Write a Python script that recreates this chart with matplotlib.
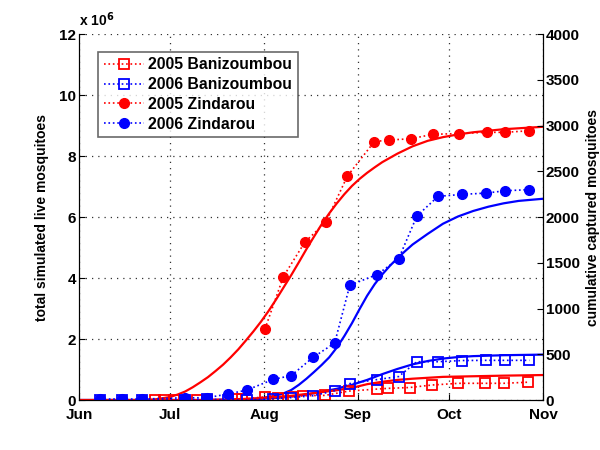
import matplotlib
matplotlib.use("Agg")
import matplotlib.pyplot as plt

plt.rcParams['font.family'] = ['Liberation Sans', 'DejaVu Sans']
plt.rcParams['font.weight'] = 'bold'

# days since 1 June
month_days = [0, 30, 61, 92, 122, 153]
month_labels = ['Jun', 'Jul', 'Aug', 'Sep', 'Oct', 'Nov']

# captured mosquitoes (right axis)
ban05_days = [25.2, 28.0, 31.3, 38.9, 42.2, 51.8, 53.7, 61.2, 65.6, 70.4, 74.0, 81.1,
              88.9, 98.3, 102.0, 109.0, 116.3, 125.1, 134.0, 140.0, 148.1]
ban05_vals = [0, 0, 0, 0, 0, 8, 8, 36, 22, 36, 47, 51,
              98, 120, 128, 137, 164, 183, 183, 183, 195]

ban06_days = [6.9, 14.1, 20.9, 34.9, 42.1, 49.2, 55.3, 64.1, 70.0, 77.2, 84.3, 89.3,
              98.3, 105.4, 111.4, 118.4, 126.4, 134.3, 140.4, 148.5]
ban06_vals = [0, 0, 0, 0, 11, 0, 0, 16, 27, 47, 102, 180,
              224, 257, 419, 419, 432, 434, 434, 434]

zin05_days = [61.3, 67.4, 74.5, 81.4, 88.5, 97.4, 102.3, 109.5, 116.6, 125.3, 134.4, 140.5, 148.5]
zin05_vals = [776, 1350, 1727, 1945, 2448, 2825, 2842, 2856, 2904, 2913, 2926, 2926, 2943]

zin06_days = [6.9, 14.1, 20.9, 34.9, 42.1, 49.2, 55.3, 64.1, 70.0, 77.2, 84.3, 89.3,
              98.3, 105.4, 111.4, 118.4, 126.4, 134.3, 140.4, 148.5]
zin06_vals = [11, 11, 11, 25, 25, 66, 109, 226, 268, 467, 623, 1255,
              1372, 1544, 2011, 2226, 2248, 2262, 2287, 2300]

# simulated live mosquitoes, millions (left axis)
sim_zin05_days = [0, 20, 25, 30, 32.5, 35, 37.5, 40, 42.5, 45, 47.5, 50, 52.5, 55, 57.5,
                  60, 62.5, 65, 67.5, 70, 72.5, 75, 77.5, 80, 82.5, 85, 87.5, 90, 92.5,
                  95, 97.5, 100, 105, 110, 115, 120, 125, 130, 140, 153]
sim_zin05 = [0, 0, 0.02, 0.1, 0.18, 0.28, 0.42, 0.58, 0.75, 0.95, 1.16, 1.4, 1.66, 1.95,
             2.25, 2.57, 2.92, 3.3, 3.7, 4.1, 4.52, 4.95, 5.36, 5.76, 6.12, 6.45, 6.75,
             7.02, 7.25, 7.45, 7.63, 7.8, 8.08, 8.32, 8.5, 8.62, 8.71, 8.78, 8.88, 8.96]

sim_zin06_days = [0, 50, 55, 60, 62.5, 65, 67.5, 70, 72.5, 75, 77.5, 80, 82.5, 85, 87.5,
                  90, 92.5, 95, 97.5, 100, 102.5, 105, 107.5, 110, 115, 120, 125, 130,
                  135, 140, 145, 153]
sim_zin06 = [0, 0, 0.02, 0.06, 0.1, 0.15, 0.22, 0.33, 0.5, 0.7, 0.92, 1.15, 1.4, 1.72,
             2.1, 2.52, 2.98, 3.42, 3.8, 4.12, 4.4, 4.65, 4.88, 5.1, 5.45, 5.78, 6.02,
             6.2, 6.34, 6.45, 6.53, 6.6]

sim_ban_days = [0, 40, 45, 50, 55, 60, 65, 70, 75, 80, 85, 90, 95, 100, 105, 110, 115,
                120, 125, 130, 140, 153]
sim_ban06 = [0, 0, 0.005, 0.01, 0.02, 0.04, 0.07, 0.12, 0.18, 0.27, 0.37, 0.5, 0.66,
             0.85, 1.02, 1.17, 1.28, 1.36, 1.41, 1.44, 1.47, 1.49]
sim_ban05 = [0, 0, 0.01, 0.02, 0.04, 0.06, 0.1, 0.14, 0.2, 0.26, 0.32, 0.4, 0.52,
             0.6, 0.66, 0.7, 0.73, 0.76, 0.77, 0.78, 0.8, 0.82]

fig = plt.figure(figsize=(6, 4.5), dpi=100)
ax = fig.add_axes([0.1317, 0.111, 0.7733, 0.8133])
ax2 = ax.twinx()

ax.plot(sim_zin05_days, sim_zin05, '-', color='red', lw=1.6)
ax.plot(sim_zin06_days, sim_zin06, '-', color='blue', lw=1.6)
ax.plot(sim_ban_days, sim_ban06, '-', color='blue', lw=1.6)
ax.plot(sim_ban_days, sim_ban05, '-', color='red', lw=1.6)

ax2.plot(ban05_days, ban05_vals, ':', color='red', marker='s', mfc='none', mec='red',
         ms=7, mew=1.3, lw=1.2, label='2005 Banizoumbou')
ax2.plot(ban06_days, ban06_vals, ':', color='blue', marker='s', mfc='none', mec='blue',
         ms=7, mew=1.3, lw=1.2, label='2006 Banizoumbou')
ax2.plot(zin05_days, zin05_vals, ':', color='red', marker='o', mfc='red', mec='red',
         ms=7, lw=1.2, label='2005 Zindarou')
ax2.plot(zin06_days, zin06_vals, ':', color='blue', marker='o', mfc='blue', mec='blue',
         ms=7, lw=1.2, label='2006 Zindarou')

ax.set_xlim(0, 153)
ax.set_ylim(0, 12)
ax2.set_ylim(0, 4000)
ax.set_xticks(month_days)
ax.set_xticklabels(month_labels)
ax.set_yticks(range(0, 13, 2))
ax2.set_yticks(range(0, 4001, 500))

ax.grid(True, linestyle=(0, (1, 4)), color='#333333', lw=0.9)
for a in (ax, ax2):
    a.spines['top'].set_visible(False)
    a.tick_params(direction='in', labelsize=11, length=4, width=0.8)
ax.tick_params(axis='x', pad=6)
ax.tick_params(axis='y', pad=2)
ax2.tick_params(axis='y', pad=2)

ax.text(0.0, 1.015, r'x 10$^{6}$', transform=ax.transAxes, fontsize=10, ha='left', va='bottom')

ax.set_ylabel('total simulated live mosquitoes', fontsize=10, fontweight='bold')
ax2.set_ylabel('cumulative captured mosquitoes', fontsize=10, fontweight='bold')
ax.yaxis.set_label_coords(-0.064, 0.5)
ax2.yaxis.set_label_coords(1.093, 0.5)

leg = ax2.legend(loc='upper left', bbox_to_anchor=(0.041, 0.951), fontsize=11.3,
                 frameon=True, fancybox=False, borderpad=0.35, labelspacing=0.3,
                 handlelength=2.6, handletextpad=0.25, borderaxespad=0)
leg.get_frame().set_edgecolor('#444444')
leg.get_frame().set_linewidth(1.2)

fig.savefig('out.png', dpi=100)
